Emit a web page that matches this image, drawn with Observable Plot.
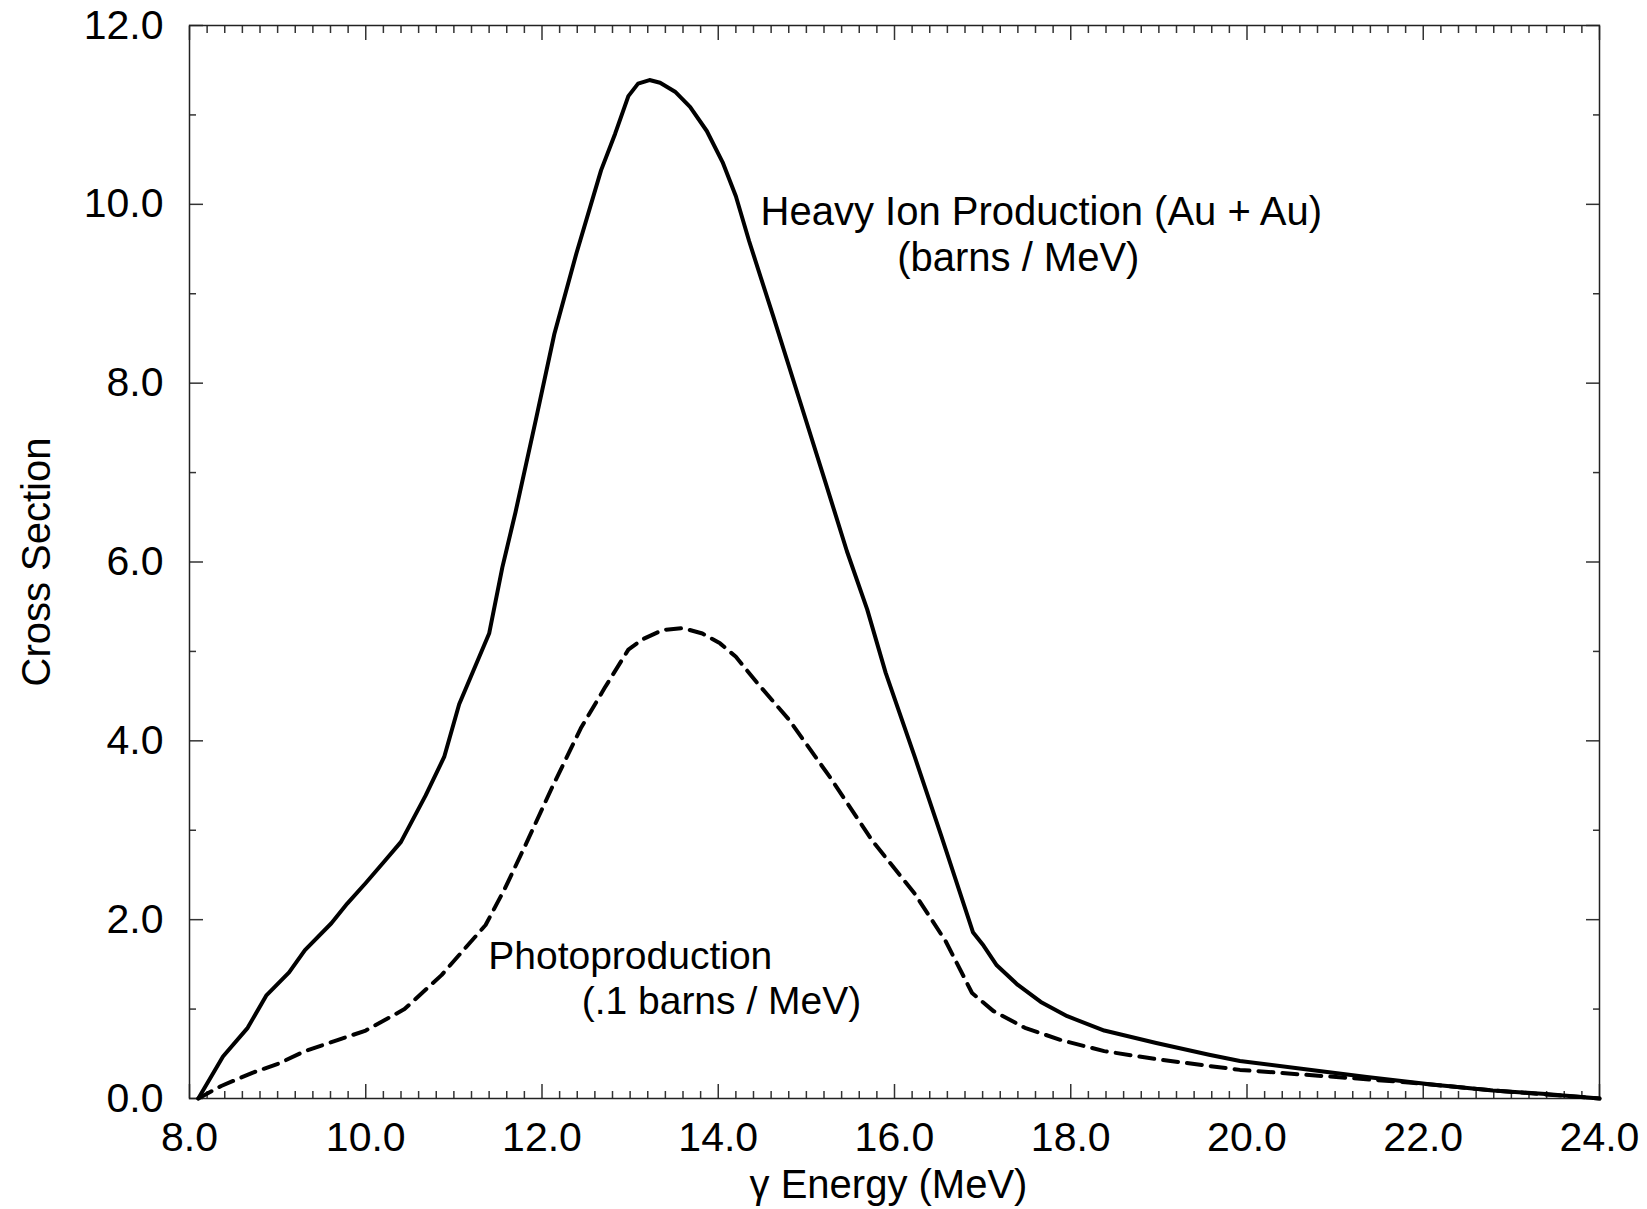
<!DOCTYPE html>
<html>
<head>
<meta charset="utf-8">
<script src="https://cdn.jsdelivr.net/npm/d3@7"></script>
<script src="https://cdn.jsdelivr.net/npm/@observablehq/plot@0.6"></script>
<style>
  html, body { margin: 0; padding: 0; background: #fff; }
  #chart svg { display: block; }
</style>
</head>
<body>
<div id="chart"></div>
<script>
// ---- Data ----
const heavyEnergy = [8.10, 8.38, 8.66, 8.87, 9.13, 9.31, 9.61, 9.79, 10.00, 10.21, 10.40, 10.68, 10.89, 11.06, 11.40, 11.55, 11.70, 11.93, 12.14, 12.39, 12.67, 12.83, 12.98, 13.09, 13.22, 13.34, 13.51, 13.68, 13.87, 14.05, 14.20, 14.35, 14.62, 14.92, 15.22, 15.46, 15.69, 15.90, 16.23, 16.53, 16.89, 17.01, 17.16, 17.40, 17.66, 17.96, 18.38, 18.97, 19.57, 19.92, 20.64, 21.36, 22.07, 22.79, 23.39, 24.00];
const heavySigma = [0, 0.47, 0.79, 1.15, 1.41, 1.66, 1.96, 2.18, 2.41, 2.65, 2.87, 3.39, 3.82, 4.41, 5.20, 5.94, 6.56, 7.59, 8.55, 9.45, 10.38, 10.79, 11.21, 11.35, 11.39, 11.36, 11.26, 11.09, 10.82, 10.47, 10.09, 9.59, 8.76, 7.82, 6.88, 6.12, 5.47, 4.76, 3.82, 2.94, 1.86, 1.71, 1.49, 1.27, 1.08, 0.92, 0.76, 0.62, 0.49, 0.42, 0.33, 0.24, 0.16, 0.09, 0.05, 0];

const photoEnergy = [8.10, 8.36, 8.72, 9.01, 9.31, 9.67, 10.00, 10.44, 10.86, 11.10, 11.36, 11.58, 11.82, 12.11, 12.44, 12.71, 12.98, 13.15, 13.37, 13.60, 13.82, 14.02, 14.20, 14.44, 14.80, 15.27, 15.75, 16.23, 16.58, 16.88, 17.12, 17.48, 17.90, 18.38, 18.97, 19.92, 20.88, 21.83, 22.79, 24.00];
const photoSigma = [0, 0.14, 0.29, 0.39, 0.53, 0.65, 0.76, 1.00, 1.38, 1.65, 1.94, 2.35, 2.85, 3.47, 4.14, 4.59, 5.02, 5.14, 5.24, 5.26, 5.20, 5.09, 4.94, 4.65, 4.24, 3.59, 2.88, 2.29, 1.76, 1.18, 0.98, 0.79, 0.65, 0.53, 0.44, 0.32, 0.25, 0.18, 0.09, 0];

const xMajorTicks = [8, 10, 12, 14, 16, 18, 20, 22, 24];
const yMajorTicks = [0, 2, 4, 6, 8, 10, 12];
const xMinorTicks = d3.range(40, 121).map(i => i / 5).filter(v => !xMajorTicks.includes(v));
const yMinorTicks = [1, 3, 5, 7, 9, 11];

const xLabel = "γ Energy (MeV)";
const yLabel = "Cross Section";
const heavyLabel = ["Heavy Ion Production (Au + Au)", "(barns / MeV)"];
const photoLabel = ["Photoproduction", "(.1 barns / MeV)"];

// ---- Tables built from the arrays ----
const heavy = heavyEnergy.map((e, i) => ({e, s: heavySigma[i]}));
const photo = photoEnergy.map((e, i) => ({e, s: photoSigma[i]}));

const FONT = "'Liberation Sans', Arial, Helvetica, sans-serif";
const FS = 39;
const TFS = 41;
const tickStroke = "#333";
const MAJ = 14, MIN = 7;

function tickAxes(axisFn, anchor, ticks, size) {
  return axisFn(ticks, {anchor, tickSize: -size, stroke: tickStroke, strokeWidth: 1.5, fill: "none", label: null});
}

const chart = Plot.plot({
  width: 1647,
  height: 1209,
  marginLeft: 189,
  marginRight: 48,
  marginTop: 25,
  marginBottom: 111,
  style: {fontFamily: FONT, fontSize: FS + "px", background: "#fff", color: "#000"},
  x: {domain: [8, 24], nice: false},
  y: {domain: [0, 12], nice: false},
  marks: [
    // tick labels
    Plot.axisX(xMajorTicks, {anchor: "bottom", tickSize: 0, tickPadding: 23, tickFormat: d3.format(".1f"), fontSize: TFS, label: null}),
    Plot.axisY(yMajorTicks, {anchor: "left", tickSize: 0, tickPadding: 26, tickFormat: d3.format(".1f"), fontSize: TFS, label: null}),
    // inward ticks on all four sides
    tickAxes(Plot.axisX, "bottom", xMajorTicks, MAJ),
    tickAxes(Plot.axisX, "bottom", xMinorTicks, MIN),
    tickAxes(Plot.axisX, "top", xMajorTicks, MAJ),
    tickAxes(Plot.axisX, "top", xMinorTicks, MIN),
    tickAxes(Plot.axisY, "left", yMajorTicks, MAJ),
    tickAxes(Plot.axisY, "left", yMinorTicks, MIN),
    tickAxes(Plot.axisY, "right", yMajorTicks, MAJ),
    tickAxes(Plot.axisY, "right", yMinorTicks, MIN),
    Plot.frame({stroke: "#222", strokeWidth: 1.5}),
    // curves
    Plot.line(heavy, {x: "e", y: "s", stroke: "#000", strokeWidth: 4, strokeLinejoin: "round", strokeLinecap: "round"}),
    Plot.line(photo, {x: "e", y: "s", stroke: "#000", strokeWidth: 4, strokeDasharray: "15,9", strokeLinejoin: "round"}),
    // axis titles
    Plot.text([yLabel], {frameAnchor: "left", textAnchor: "middle", lineAnchor: "middle", dx: -152, rotate: -90, fontSize: FS + 1, fill: "#000"}),
    Plot.text([xLabel], {frameAnchor: "bottom", dy: 99, dx: -6, fontSize: FS + 1, fill: "#000"}),
    // annotations
    Plot.text([heavyLabel[0]], {x: 14.48, y: 9.91, textAnchor: "start", fontSize: FS + 1, fill: "#000"}),
    Plot.text([heavyLabel[1]], {x: 16.03, y: 9.40, textAnchor: "start", fontSize: FS + 1, fill: "#000"}),
    Plot.text([photoLabel[0]], {x: 11.39, y: 1.59, textAnchor: "start", fontSize: FS, fill: "#000"}),
    Plot.text([photoLabel[1]], {x: 12.45, y: 1.09, textAnchor: "start", fontSize: FS, fill: "#000"})
  ]
});
document.getElementById("chart").appendChild(chart);
</script>
</body>
</html>
